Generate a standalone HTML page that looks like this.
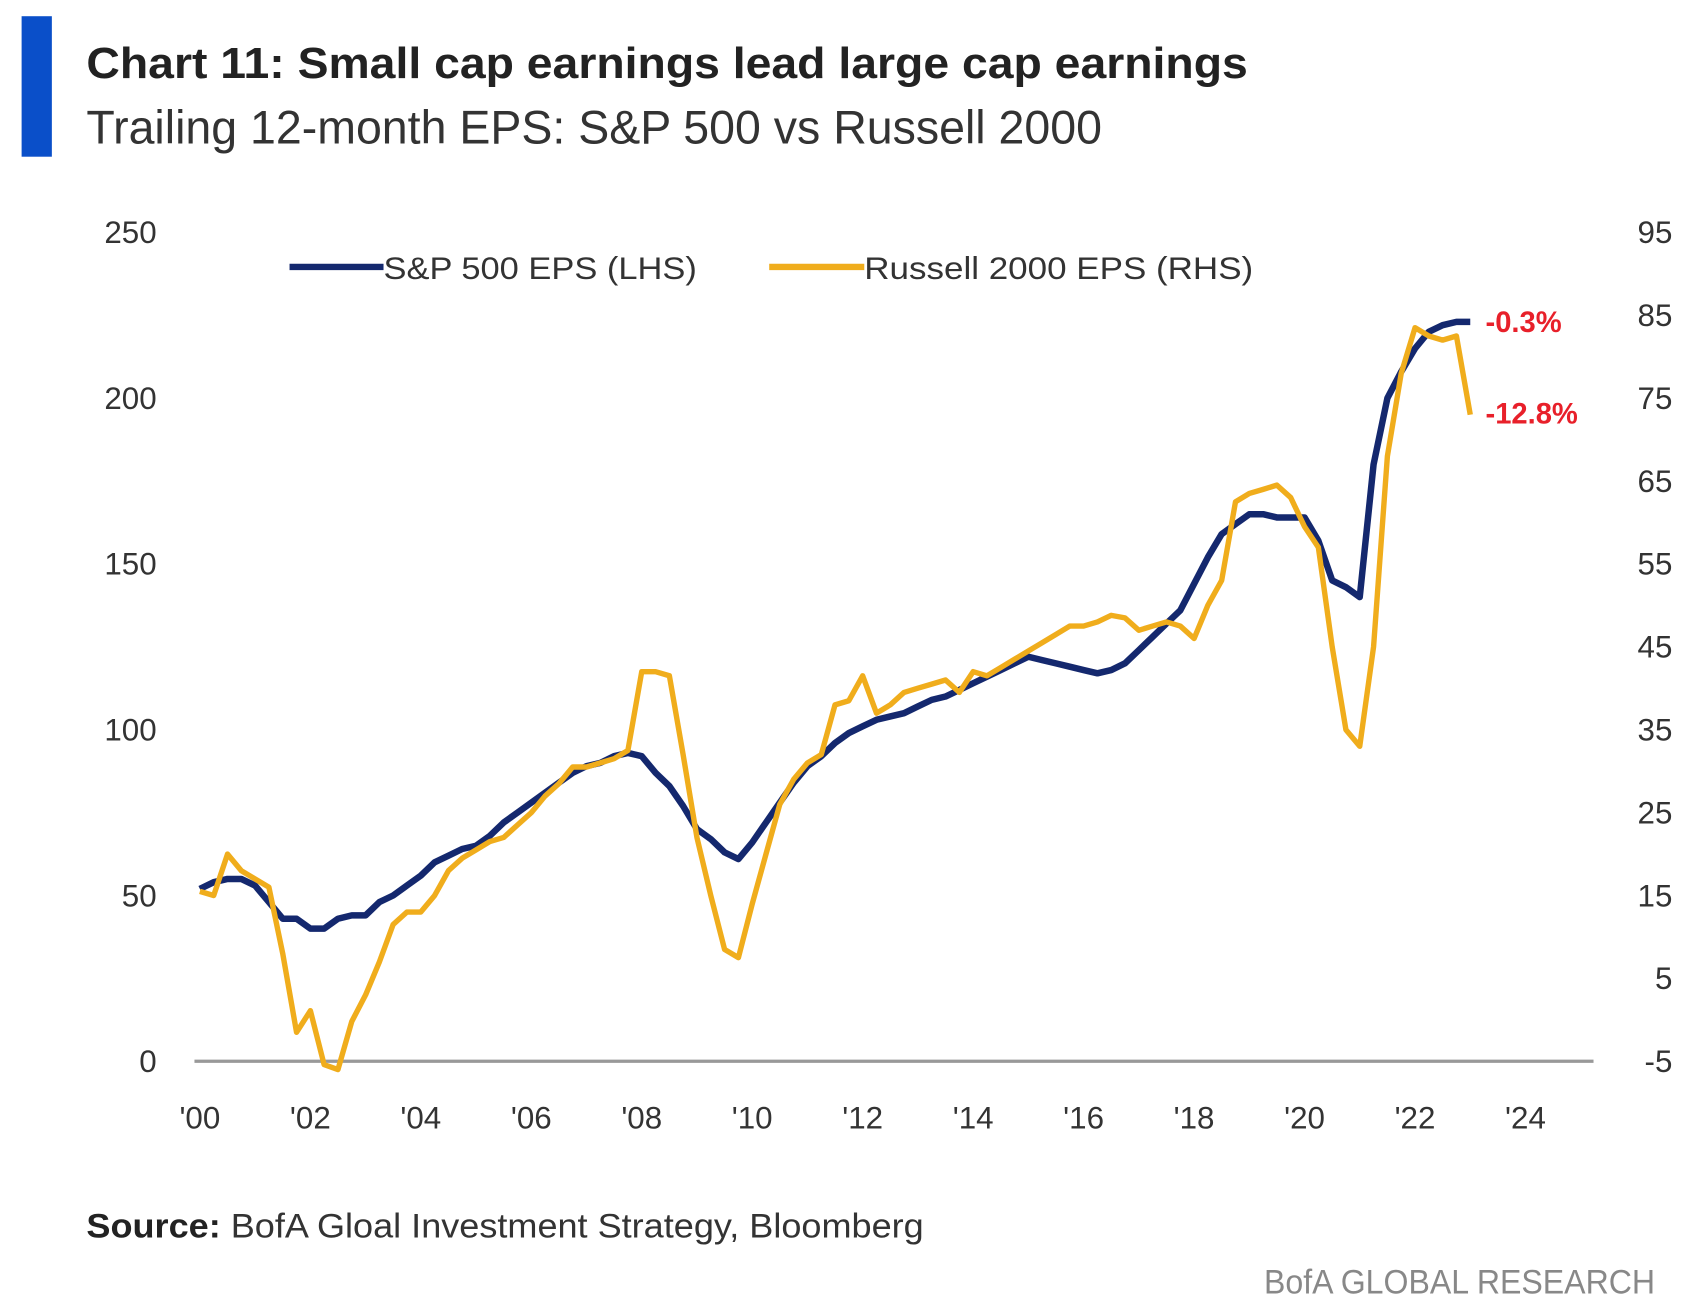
<!DOCTYPE html>
<html><head><meta charset="utf-8"><style>
html,body{margin:0;padding:0;background:#fff;}
svg{display:block;}
text{font-family:"Liberation Sans",sans-serif;}
</style></head><body>
<svg width="1694" height="1312" viewBox="0 0 1568 1214" preserveAspectRatio="none" xmlns="http://www.w3.org/2000/svg">
<rect x="0" y="0" width="1568" height="1214" fill="#fff"/>
<rect x="20" y="15" width="28" height="130" fill="#0a4fc9"/>
<text x="80" y="72" font-size="40" font-weight="bold" fill="#222" textLength="1075" lengthAdjust="spacingAndGlyphs">Chart 11: Small cap earnings lead large cap earnings</text>
<text x="80" y="133" font-size="44" fill="#333" textLength="940" lengthAdjust="spacingAndGlyphs">Trailing 12-month EPS: S&amp;P 500 vs Russell 2000</text>
<g id="axes"></g>
<g>
<line x1="268" y1="247" x2="355" y2="247" stroke="#14286e" stroke-width="6"/>
<text x="355" y="258" font-size="29" fill="#333" textLength="290" lengthAdjust="spacingAndGlyphs">S&amp;P 500 EPS (LHS)</text>
<line x1="712" y1="247" x2="800" y2="247" stroke="#f0ad1c" stroke-width="6"/>
<text x="800" y="258" font-size="29" fill="#333" textLength="360" lengthAdjust="spacingAndGlyphs">Russell 2000 EPS (RHS)</text>
</g>
<g id="series"></g>
<text x="1375" y="307" font-size="27" font-weight="bold" fill="#e8202a">-0.3%</text>
<text x="1375" y="392" font-size="27" font-weight="bold" fill="#e8202a">-12.8%</text>
<text x="80" y="1145" font-size="32" fill="#333" textLength="775" lengthAdjust="spacingAndGlyphs"><tspan font-weight="bold" fill="#222">Source:</tspan> BofA Gloal Investment Strategy, Bloomberg</text>
<text x="1532" y="1197" font-size="32" fill="#888" text-anchor="end" textLength="362" lengthAdjust="spacingAndGlyphs">BofA GLOBAL RESEARCH</text>
</svg>
<script>
const leftTicks=[0,50,100,150,200,250];
const rightTicks=[-5,5,15,25,35,45,55,65,75,85,95];
const xTickLabels=["'00","'02","'04","'06","'08","'10","'12","'14","'16","'18","'20","'22","'24"];
const xTickYears=[2000,2002,2004,2006,2008,2010,2012,2014,2016,2018,2020,2022,2024];
const startYear=2000;
const sp500=[52,54,55,55, 53,48,43,43, 40,40,43,44, 44,48,50,53, 56,60,62,64, 65,68,72,75, 78,81,84,87, 89,90,92,93, 92,87,83,77, 70,67,63,61, 66,72,78,84, 89,92,96,99, 101,103,104,105, 107,109,110,112, 114,116,118,120, 122,121,120,119, 118,117,118,120, 124,128,132,136, 144,152,159,162, 165,165,164,164, 164,157,145,143, 140,180,200,208, 215,220,222,223, 223];
const russell=[15.5,15,20,18, 17,16,8,-1.5, 1.1,-5.4,-6,-0.2, 3,7,11.5,13, 13,15,18,19.5, 20.5,21.5,22,23.5, 25,27,28.5,30.5, 30.5,31,31.5,32.5, 42,42,41.5,32, 22,15,8.5,7.5, 14,20,26,29, 31,32,38,38.5, 41.5,37,38,39.5, 40,40.5,41,39.5, 42,41.5,42.5,43.5, 44.5,45.5,46.5,47.5, 47.5,48,48.8,48.5, 47,47.5,48,47.5, 46,50,53,62.5, 63.5,64,64.5,63, 59.5,57,45,35, 33,45,68,78, 83.5,82.5,82,82.5, 73];
const NS="http://www.w3.org/2000/svg";
const yL=v=>982-(v-0)/250*767;
const yR=v=>982-(v+5)/100*767;
const xS=yr=>185+(yr-2000)*51.125;
const axes=document.getElementById('axes');
const series=document.getElementById('series');
function mk(tag,attrs,parent){const e=document.createElementNS(NS,tag);for(const k in attrs)e.setAttribute(k,attrs[k]);parent.appendChild(e);return e;}
const axisLine=mk('line',{x1:180,x2:1475,y1:982,y2:982,stroke:'#999','stroke-width':3},axes);


leftTicks.forEach(v=>{const t=mk('text',{x:145,y:yL(v)+10,'font-size':29,fill:'#333','text-anchor':'end'},axes);t.textContent=v;

});
rightTicks.forEach(v=>{const t=mk('text',{x:1548,y:yR(v)+10,'font-size':29,fill:'#333','text-anchor':'end'},axes);t.textContent=v;

});
xTickLabels.forEach((l,i)=>{const t=mk('text',{x:xS(xTickYears[i]),y:1044,'font-size':29,fill:'#333','text-anchor':'middle'},axes);t.textContent=l;

});
const spPts=sp500.map((v,i)=>xS(startYear+i/4).toFixed(1)+','+yL(v).toFixed(1)).join(' ');
const ruPts=russell.map((v,i)=>xS(startYear+i/4).toFixed(1)+','+yR(v).toFixed(1)).join(' ');
const spLine=mk('polyline',{points:spPts,fill:'none',stroke:'#14286e','stroke-width':6,'stroke-linejoin':'round'},series);


const ruLine=mk('polyline',{points:ruPts,fill:'none',stroke:'#f0ad1c','stroke-width':5,'stroke-linejoin':'round'},series);


</script>
</body></html>
